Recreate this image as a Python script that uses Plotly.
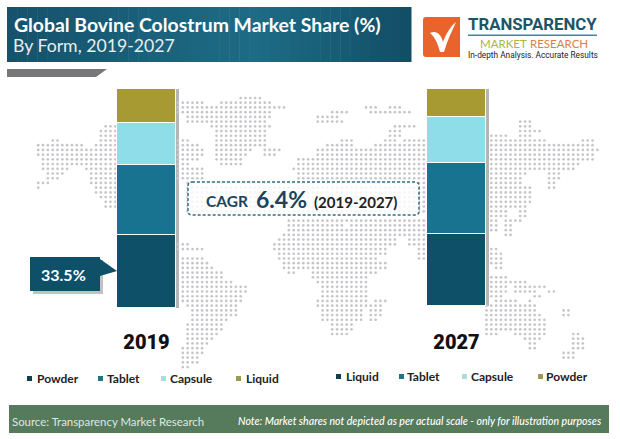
import plotly.graph_objects as go

# ---- chart data -------------------------------------------------
YEARS = ["2019", "2027"]
FORMS_2019 = ["Powder", "Tablet", "Capsule", "Liquid"]
SHARES_2019 = [33.5, 32, 19, 15.5]
FORMS_2027 = ["Liquid", "Tablet", "Capsule", "Powder"]
SHARES_2027 = [33, 33, 21, 13]
SEGMENT_COLORS = ["#0d5068", "#17738f", "#8fdde8", "#a89a32"]
TITLE = "Global Bovine Colostrum Market Share (%)"
SUBTITLE = "By Form, 2019-2027"
CALLOUT = "33.5%"

# ---- dotted world map backdrop: (row y, run start, run end) ------
MAP_RUNS = [
    (98,240,260),(103,180,203),(103,220,270),(108,180,285),(113,180,270),(118,187,270),(123,190,267),
    (128,213,270),(132,217,267),(137,217,267),(142,177,190),(142,217,267),(146,177,197),(146,217,263),
    (151,177,203),(151,217,250),(151,263,277),(155,177,200),(155,217,246),(155,263,273),(160,177,197),(160,217,240),
    (165,177,187),(165,223,240),(170,177,200),(174,177,203),(179,177,203),
    (126,108,115),(131,103,115),(136,103,115),(140,52,58),(140,103,115),(145,37,82),(145,95,115),
    (150,37,115),(155,37,115),(160,42,115),(165,42,80),(165,87,115),(169,42,65),(169,85,115),
    (174,47,63),(174,90,115),(179,47,58),(179,90,115),(183,37,48),(183,93,115),(188,37,40),(188,97,115),
    (193,98,115),(198,102,115),(202,107,115),(208,107,115),
    (244,178,190),(249,178,200),(258,185,200),(262,185,205),(268,185,210),(272,185,223),(277,185,223),
    (282,185,233),(287,185,247),(291,185,247),(296,185,243),(301,185,243),(305,188,238),(310,193,238),
    (315,193,238),(319,193,228),(324,188,223),(329,188,223),(333,188,218),(338,188,213),(343,188,208),
    (347,183,203),(352,183,200),(357,183,195),(361,183,195),(366,183,190),
    (107,368,375),(107,392,398),(112,330,347),(112,372,408),(117,320,337),(122,320,343),(127,395,412),
    (131,390,398),(136,390,398),(140,343,352),(140,385,393),(140,405,425),(145,382,393),(145,403,425),
    (146,328,352),(146,377,425),(151,320,425),(155,316,425),(160,300,425),(165,297,425),(170,293,425),
    (174,297,425),(179,300,425),(184,190,425),(188,190,425),(193,190,425),(198,190,425),(203,190,425),(208,190,425),(212,190,425),
    (220,287,425),(225,287,343),(225,353,425),(230,287,425),(235,283,425),(239,277,393),(239,410,425),
    (244,273,393),(244,410,425),(249,273,385),(249,418,425),(253,278,383),(253,418,425),(258,278,375),(258,418,425),
    (263,283,383),(267,283,312),(267,315,383),(272,287,295),(272,315,375),(277,315,367),(282,320,367),
    (287,325,367),(291,325,367),(296,325,367),(300,320,367),(300,377,383),(305,320,367),(305,372,382),
    (310,325,360),(310,372,382),(314,325,360),(314,372,382),(319,325,360),(319,372,375),
    (324,330,350),(328,330,350),(333,330,345),
    (120,518,530),(126,518,530),(131,518,540),(135,490,505),(135,522,528),(140,490,543),(140,585,592),
    (145,490,592),(149,490,595),(154,490,593),(159,490,593),(163,490,578),(168,490,573),(173,490,527),
    (173,550,558),(178,490,522),(178,550,558),(183,490,522),(183,547,556),(188,490,530),(188,550,555),
    (192,490,530),(197,490,530),(202,490,530),(207,490,525),(211,490,505),(211,520,527),(216,490,495),
    (216,498,505),(216,518,527),(221,490,495),(221,505,520),(226,490,495),(226,508,512),(230,490,495),
    (230,508,512),(235,505,509),(249,490,495),(254,490,500),(258,490,500),(263,490,500),(268,495,502),
    (277,490,505),(282,490,527),(286,490,505),(286,513,543),(291,490,505),(291,513,535),(291,547,553),
    (296,490,500),(296,537,540),(300,498,517),(300,528,532),(305,488,535),(310,488,535),(310,562,567),
    (315,488,540),(315,562,567),(319,488,543),(324,488,543),(329,488,543),(333,488,497),(333,513,543),
    (333,573,578),(338,523,538),(338,575,583),(343,528,535),(343,575,585),(347,532,535),(347,575,581),
    (352,565,575),(357,565,573),
]
PITCH_X, PITCH_Y, ORIGIN_X, ORIGIN_Y = 4.82, 4.72, 178.0, 98.0
cells = set()
for y, a, b in MAP_RUNS:
    r = round((y - ORIGIN_Y) / PITCH_Y)
    for c in range(round((a - ORIGIN_X) / PITCH_X), round((b - ORIGIN_X) / PITCH_X) + 1):
        cells.add((c, r))
map_x = [ORIGIN_X + c * PITCH_X for c, r in sorted(cells)]
map_y = [ORIGIN_Y + r * PITCH_Y for c, r in sorted(cells)]

W, H = 620, 439
fig = go.Figure()
fig.add_trace(go.Scatter(x=map_x, y=map_y, mode="markers", hoverinfo="skip", showlegend=False,
                         marker=dict(size=2.7, color="#c6c6ca", symbol="circle"),
                         xaxis="x", yaxis="y"))

def stack(year, forms, shares, yaxis):
    for form, share, color in zip(forms, shares, SEGMENT_COLORS):
        fig.add_trace(go.Bar(x=[year], y=[share], name=form, width=0.19, showlegend=False,
                             marker=dict(color=color, line=dict(color="white", width=1.5)),
                             xaxis="x2", yaxis=yaxis))
stack(YEARS[0], FORMS_2019, SHARES_2019, "y2")
stack(YEARS[1], FORMS_2027, SHARES_2027, "y3")

def rect(x0, y0, x1, y1, color, layer="above"):
    return dict(type="rect", xref="x", yref="y", x0=x0, y0=y0, x1=x1, y1=y1,
                fillcolor=color, line=dict(width=0), layer=layer)
def path(d, color, layer="above", line=None):
    return dict(type="path", xref="x", yref="y", path=d, fillcolor=color,
                line=line or dict(width=0), layer=layer)

shapes = []
# header gradient
def mix(a, b, t):
    return "rgb(%d,%d,%d)" % tuple(a[i] + (b[i] - a[i]) * t for i in range(3))
L, M, R = (22, 82, 108), (30, 108, 134), (19, 78, 102)
n = 40
for i in range(n):
    x0 = 7 + (411 - 7) * i / n
    x1 = 7 + (411 - 7) * (i + 1) / n + 0.5
    t = (i + .5) / n
    c = mix(L, M, t / .62) if t < .62 else mix(M, R, (t - .62) / .38)
    shapes.append(rect(x0, 7, x1, 62, c))
shapes.append(path("M7,69 L107,69 L96,77 L7,77 Z", "#77777a"))
# bar shadows
shapes.append(rect(176, 89, 179, 308, "#b5b5b8", "below"))
shapes.append(rect(486, 89, 489, 306, "#b5b5b8", "below"))
# CAGR box
shapes.append(path("M192,182 L415,182 Q419,182 419,186 L419,211 Q419,215 415,215 L192,215 Q188,215 188,211 L188,186 Q188,182 192,182 Z",
                   "rgba(255,255,255,0.82)", line=dict(color="#2f6f86", width=1.5, dash="3px,2px")))
# callout
shapes.append(path("M33,260 L103,260 L103,294 L33,294 Z", "rgba(120,120,120,0.45)"))
shapes.append(path("M30,257 L100,257 L100,259 L117,271 L100,276 L100,291 L30,291 Z", SEGMENT_COLORS[0]))
# legends
LEG_2019 = [(27, 34.5, 0), (98, 104.5, 1), (161, 167.5, 2), (236, 243.5, 3)]
LEG_2027 = [(336, 343.5, 0), (399, 404.5, 1), (462, 468.5, 2), (538, 543.5, 3)]
KEY_COLORS = ["#123f50", "#1f7488", "#a9dbe2", "#9a9a52"]
for kx, tx, i in LEG_2019:
    shapes.append(rect(kx, 376, kx + 5, 381, KEY_COLORS[i]))
for kx, tx, i in LEG_2027:
    shapes.append(rect(kx, 374, kx + 5, 379, KEY_COLORS[i]))
# footer
shapes.append(rect(9, 405, 609, 433, "#567a5c"))
# logo
shapes.append(path("M426,17 L460,17 L460,57 L426,57 Q423,57 423,54 L423,20 Q423,17 426,17 Z", "#e8642c"))
shapes.append(path("M430,33 C436,30 441,34 443,42 C446,34 450,27 456,22 C452,31 447,41 444,52 L440,52 C438,44 435,37 430,33 Z", "white"))
shapes.append(rect(468, 34.5, 597, 36, "#2f8f9d"))

G = "Lato"
NARROW = "Roboto"
def text(x, y, s, size, color, family=G, weight=400, anchor="left", style="normal"):
    return dict(xref="x", yref="y", x=x, y=y, text=s, showarrow=False, xanchor=anchor, yanchor="middle",
                font=dict(family=family, size=size, color=color, weight=weight, style=style))

ann = [
    text(11.5, 24, TITLE, 19.4, "white", weight=700),
    text(11, 45, SUBTITLE, 17.7, "#e8eef0"),
    text(466, 24, "TRANSPARENCY", 16.8, "#1c5568", NARROW, 700),
    text(478, 43, "MARKET", 11.5, "#a9b545"),
    text(528, 43, "RESEARCH", 11.5, "#d9813f"),
    text(466, 55, "In-depth Analysis. Accurate Results", 8.3, "#222", NARROW, 400),
    text(204, 201, "CAGR", 15.5, "#1b4459", weight=700),
    text(254, 199, "6.4%", 23, "#1b4459", weight=700),
    text(312, 202, "(2019-2027)", 15, "#222", weight=700),
    text(39, 274, CALLOUT, 16, "white", weight=700),
    text(10, 421, "Source: Transparency Market Research", 11.4, "#dfe8e0"),
    text(236, 421, "Note: Market shares not depicted as per actual scale - only for illustration purposes", 10.6, "white", style="italic", weight=500),
]
for (kx, tx, i), form in zip(LEG_2019, FORMS_2019):
    ann.append(text(tx, 378.5, form, 12, "#222", weight=700))
for (kx, tx, i), form in zip(LEG_2027, FORMS_2027):
    ann.append(text(tx, 376.5, form, 12, "#222", weight=700))

def dom(top, bottom):
    return [1 - bottom / H, 1 - top / H]

fig.update_layout(
    width=W, height=H, autosize=False,
    margin=dict(l=0, r=0, t=0, b=0),
    paper_bgcolor="white", plot_bgcolor="rgba(0,0,0,0)",
    barmode="stack", bargap=0, showlegend=False,
    shapes=shapes, annotations=ann,
    xaxis=dict(domain=[0, 1], range=[0, W], visible=False, fixedrange=True),
    yaxis=dict(domain=[0, 1], range=[H, 0], visible=False, fixedrange=True),
    xaxis2=dict(domain=[0, 1], anchor="y2", type="category", categoryorder="array", categoryarray=YEARS,
                range=[-146.5 / 310, (620 - 146.5) / 310], showline=False, showgrid=False, zeroline=False,
                ticks="outside", ticklen=16, tickcolor="rgba(0,0,0,0)", tickwidth=1,
                tickfont=dict(family="Roboto", size=20, color="#111", weight=900), fixedrange=True),
    yaxis2=dict(domain=dom(89, 308), anchor="x2", range=[0, 100], visible=False, fixedrange=True),
    yaxis3=dict(domain=dom(89, 306), anchor="x2", range=[0, 100], visible=False, fixedrange=True),
)
fig.write_html("out.html", config=dict(displayModeBar=False),
               post_script="document.body.style.margin='0';document.body.style.overflow='hidden';")
